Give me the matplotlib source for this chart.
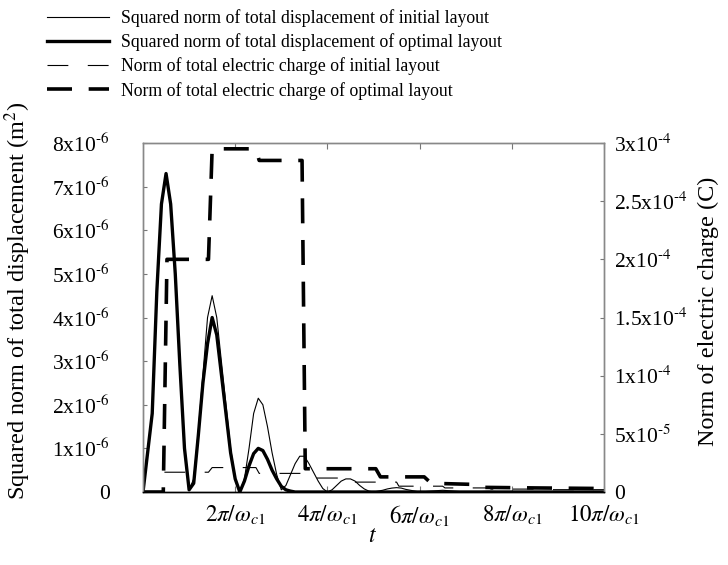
import matplotlib
matplotlib.use("Agg")
import matplotlib.pyplot as plt

plt.rcParams['font.family'] = ['Liberation Serif', 'DejaVu Serif']
plt.rcParams['mathtext.fontset'] = 'stix'
plt.rcParams['lines.scale_dashes'] = False

# time in units of pi/omega_c1
t_disp = [0.0, 0.1, 0.2, 0.3, 0.4, 0.5, 0.6, 0.7, 0.8, 0.9, 1.0,
          1.1, 1.2, 1.3, 1.4, 1.5, 1.6, 1.7, 1.8, 1.9, 2.0,
          2.1, 2.2, 2.3, 2.4, 2.5, 2.6, 2.7, 2.8, 2.9, 3.0,
          3.1, 3.2, 3.3, 3.4, 3.5, 3.6, 3.7, 3.8, 3.9, 4.0,
          4.1, 4.2, 4.3, 4.4, 4.5, 4.6, 4.7, 4.8, 4.9, 5.0,
          5.1, 5.2, 5.3, 5.4, 5.5, 5.6, 5.7, 5.8, 5.9, 6.0,
          6.5, 7.0, 7.5, 8.0, 8.5, 9.0, 9.5, 10.0]

# squared norm of displacement (x1e-6 m^2)
disp_initial = [0.0, 0.9, 1.8, 4.6, 6.6, 7.3, 6.6, 5.0, 2.9, 1.0, 0.05,
                0.3, 1.4, 2.7, 4.0, 4.5, 4.0, 3.0, 2.0, 1.0, 0.3,
                0.0, 0.3, 1.0, 1.8, 2.15, 2.0, 1.5, 0.9, 0.4, 0.05,
                0.15, 0.4, 0.65, 0.82, 0.82, 0.65, 0.45, 0.25, 0.08, 0.0,
                0.05, 0.15, 0.25, 0.3, 0.3, 0.25, 0.15, 0.07, 0.02, 0.0,
                0.02, 0.04, 0.07, 0.09, 0.1, 0.09, 0.06, 0.04, 0.02, 0.0,
                0.04, 0.0, 0.015, 0.0, 0.005, 0.0, 0.0, 0.0]
disp_optimal = [0.0, 0.9, 1.8, 4.6, 6.6, 7.3, 6.6, 5.0, 2.9, 1.0, 0.05,
                0.2, 1.3, 2.5, 3.4, 4.0, 3.6, 2.7, 1.8, 0.9, 0.3,
                0.0, 0.25, 0.6, 0.88, 1.0, 0.95, 0.75, 0.5, 0.3, 0.13,
                0.05, 0.02, 0.0, 0.0, 0.0, 0.0, 0.0, 0.0, 0.0, 0.0,
                0.0, 0.0, 0.0, 0.0, 0.0, 0.0, 0.0, 0.0, 0.0, 0.0,
                0.0, 0.0, 0.0, 0.0, 0.0, 0.0, 0.0, 0.0, 0.0, 0.0,
                0.0, 0.0, 0.0, 0.0, 0.0, 0.0, 0.0, 0.0]

# norm of electric charge (x1e-4 C)
t_q_initial = [0.0, 0.44, 0.46, 1.42, 1.5, 2.45, 2.52, 3.5, 3.55, 4.5, 4.55,
               5.5, 5.55, 6.5, 6.55, 7.5, 7.55, 8.5, 8.55, 10.0]
q_initial = [0.0, 0.0, 0.17, 0.17, 0.21, 0.21, 0.16, 0.16, 0.12, 0.12, 0.085,
             0.085, 0.05, 0.05, 0.035, 0.035, 0.025, 0.025, 0.02, 0.02]
t_q_optimal = [0.0, 0.44, 0.52, 1.42, 1.5, 2.45, 2.52, 3.45, 3.52, 5.05, 5.15,
               6.1, 6.25, 7.2, 7.35, 8.5, 10.0]
q_optimal = [0.0, 0.0, 2.0, 2.0, 2.95, 2.95, 2.85, 2.85, 0.2, 0.2, 0.13,
             0.13, 0.075, 0.065, 0.04, 0.035, 0.03]

HY = '\u2010'
xticks = [2, 4, 6, 8, 10]
xticklabels = [r'$2\pi/\omega_{c1}$', r'$4\pi/\omega_{c1}$', r'$6\pi/\omega_{c1}$',
               r'$8\pi/\omega_{c1}$', r'$10\pi/\omega_{c1}$']
yticks_left = [0, 1, 2, 3, 4, 5, 6, 7, 8]
yticklabels_left = ['0'] + [f'{v}x10$^{{{HY}6}}$' for v in yticks_left[1:]]
yticks_right = [0, 0.5, 1.0, 1.5, 2.0, 2.5, 3.0]
yticklabels_right = ['0', f'5x10$^{{{HY}5}}$', f'1x10$^{{{HY}4}}$',
                     f'1.5x10$^{{{HY}4}}$', f'2x10$^{{{HY}4}}$',
                     f'2.5x10$^{{{HY}4}}$', f'3x10$^{{{HY}4}}$']

fig = plt.figure(figsize=(7.28, 5.65), dpi=100)
ax = fig.add_axes([143/728, 1-492/565, (604-143)/728, (492-143)/565])
ax2 = ax.twinx()

l1, = ax.plot(t_disp, disp_initial, color='black', lw=0.8,
              label='Squared norm of total displacement of initial layout')
l2, = ax.plot(t_disp, disp_optimal, color='black', lw=2.4,
              label='Squared norm of total displacement of optimal layout')
l3, = ax2.plot(t_q_initial, q_initial, color='black', lw=0.8, dashes=(15, 14),
               label='Norm of total electric charge of initial layout')
l4, = ax2.plot(t_q_optimal, q_optimal, color='black', lw=2.6, dashes=(18, 12),
               label='Norm of total electric charge of optimal layout')

ax.set_xlim(0, 10)
ax.set_ylim(0, 8)
ax2.set_ylim(0, 3)
ax.set_xticks(xticks)
ax.set_xticklabels(xticklabels, fontsize=16.5)
ax.set_yticks(yticks_left)
ax.set_yticklabels(yticklabels_left, fontsize=15.5)
ax2.set_yticks(yticks_right)
ax2.set_yticklabels(yticklabels_right, fontsize=15.5)

ax.tick_params(axis='x', direction='in', length=4, pad=8, top=True, color='#777777')
ax.tick_params(axis='y', direction='in', length=3, pad=24, color='#777777')
ax2.tick_params(axis='y', direction='in', length=3, pad=7.5, color='#777777')

for a in (ax, ax2):
    for s in a.spines.values():
        s.set_color('#888888')
        s.set_linewidth(1.0)
ax.spines['bottom'].set_color('black')
ax2.spines['bottom'].set_color('black')

fig.text(18/728, 1-301/565, 'Squared norm of total displacement (m$^2$)',
         rotation=90, ha='center', va='center', fontsize=17.5)
fig.text(708/728, 1-311/565, 'Norm of electric charge (C)',
         rotation=90, ha='center', va='center', fontsize=17.5)
fig.text(373/728, 1-536/565, '$t$', ha='center', va='center', fontsize=17)

fig.legend(handles=[l1, l2, l3, l4], loc='upper left',
           bbox_to_anchor=(47/728, 1-9/565), frameon=False, fontsize=12.8,
           handlelength=3.5, handletextpad=0.68, labelspacing=0.36,
           borderpad=0, borderaxespad=0)

fig.savefig('out.png', dpi=100)
